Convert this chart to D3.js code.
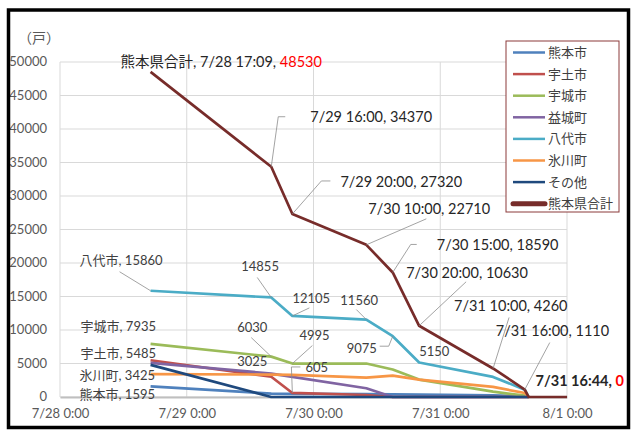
<!DOCTYPE html>
<html>
<head>
<meta charset="utf-8">
<title>熊本県 停電戸数</title>
<script src="https://d3js.org/d3.v7.min.js"></script>
<style type="text/css">
  body { margin: 0; background: #fff; }
  svg text { font-family: Lato, "Noto Sans CJK JP", sans-serif; }
  .grid line { stroke: #d9d9d9; stroke-width: 1; }
  .tick text { fill: #595959; font-size: 13px; }
  .series { fill: none; stroke-width: 2.7; stroke-linejoin: round; }
  .leader { fill: none; stroke: #8c8c8c; stroke-width: 0.8; }
  .lbl { fill: #404040; font-size: 13px; }
  .tlbl { fill: #262626; font-size: 14.5px; }
</style>
<script type="text/javascript">

// data
var times = ["7/28 17:09", "7/29 16:00", "7/29 20:00", "7/30 10:00", "7/30 15:00",
             "7/30 20:00", "7/31 10:00", "7/31 16:00", "7/31 16:44"];
var totalTimes = times.concat(["8/1 0:00"]);

var seriesNames = ["熊本市", "宇土市", "宇城市", "益城町", "八代市", "氷川町", "その他"];
var kumamoto = [1595, 500, 480, 450, 400, 350, 250, 100, 0];
var uto      = [5485, 3025, 605, 300, 0, 0, 0, 0, 0];
var uki      = [7935, 6030, 4995, 4995, 4100, 2600, 800, 200, 0];
var mashiki  = [5100, 3500, 3000, 1300, 0, 0, 0, 0, 0];
var yatsushiro = [15860, 14855, 12105, 11560, 9075, 5150, 3000, 1100, 0];
var hikawa   = [3425, 3350, 3300, 2900, 3200, 2600, 1500, 600, 0];
var others   = [4800, 0, 0, 0, 0, 0, 0, 0, 0];
var totalName = "熊本県合計";
var total    = [48530, 34370, 27320, 22710, 18590, 10630, 4260, 1110, 0, 0];

var yTicks = [0, 5000, 10000, 15000, 20000, 25000, 30000, 35000, 40000, 45000, 50000];
var xStart = "7/28 0:00", xEnd = "8/1 0:00";

var colors = ["#4f81bd", "#c0504d", "#9bbb59", "#8064a2", "#4bacc6", "#f79646", "#1f497d"];
var totalColor = "#772c2a";

function draw() {
  var parse = d3.timeParse("%Y/%m/%d %H:%M");
  function t(s) { return parse("2020/" + s); }

  var W = 638, H = 435;
  var left = 60, right = 567, top = 62, bottom = 397;

  var svg = d3.select("body").append("svg")
      .attr("width", W).attr("height", H);

  svg.append("rect").attr("width", W).attr("height", H).attr("fill", "#fff");

  var x = d3.scaleTime().domain([t(xStart), t(xEnd)]).range([left, right]);
  var y = d3.scaleLinear().domain([0, 50000]).range([bottom, top]);

  // gridlines
  var g = svg.append("g").attr("class", "grid");
  g.selectAll("line.h").data(yTicks).enter().append("line")
      .attr("x1", left).attr("x2", right)
      .attr("y1", function(d) { return y(d); })
      .attr("y2", function(d) { return y(d); });
  g.selectAll("line.v").data(x.ticks(d3.timeDay.every(1))).enter().append("line")
      .attr("y1", top).attr("y2", bottom)
      .attr("x1", function(d) { return x(d); })
      .attr("x2", function(d) { return x(d); });

  // y axis
  var ya = svg.append("g").attr("transform", "translate(" + (left - 13) + ",0)")
      .call(d3.axisLeft(y).tickValues(yTicks).tickSize(0).tickPadding(0)
            .tickFormat(d3.format("d")));
  ya.select(".domain").remove();
  ya.selectAll("text").attr("dy", "0.3em");

  // x axis
  var xa = svg.append("g").attr("transform", "translate(0," + bottom + ")")
      .call(d3.axisBottom(x).ticks(d3.timeDay.every(1)).tickSize(0).tickPadding(12)
            .tickFormat(d3.timeFormat("%-m/%-d %-H:%M")));
  xa.select(".domain").attr("stroke", "#bfbfbf").attr("stroke-width", 2);

  svg.append("text").attr("x", 18).attr("y", 43)
      .attr("fill", "#595959").style("font-size", "14px").text("（戸）");

  var line = d3.line()
      .x(function(d) { return x(d.t); })
      .y(function(d) { return y(d.v); });

  var allSeries = [kumamoto, uto, uki, mashiki, yatsushiro, hikawa, others];
  allSeries.forEach(function(vals, i) {
    var pts = vals.map(function(v, j) { return { t: t(times[j]), v: v }; });
    svg.append("path").datum(pts).attr("class", "series")
        .attr("stroke", colors[i]).attr("d", line);
  });

  var totPts = total.map(function(v, j) { return { t: t(totalTimes[j]), v: v }; });
  svg.append("path").datum(totPts).attr("class", "series")
      .attr("stroke", totalColor).attr("stroke-width", 5.5).attr("d", line);

  // data labels: offsets from the point, leader bends as offsets too
  var labelLayout = [
    { s: 4, i: 0, text: "八代市, ", dx: -71, dy: -26, lead: [[-31, -19]] },
    { s: 4, i: 1, dx: -30, dy: -26, lead: [[-14, -20]] },
    { s: 4, i: 2, dx: 0, dy: -13, lead: [[17, -8]] },
    { s: 4, i: 3, dx: -26, dy: -15, lead: [[-10, -10]] },
    { s: 4, i: 4, dx: -46, dy: 17, lead: [[-4, 10], [-13, 10]] },
    { s: 4, i: 5, dx: 0, dy: -6 },
    { s: 2, i: 0, text: "宇城市, ", dx: -70, dy: -13 },
    { s: 2, i: 1, dx: -34, dy: -25, lead: [[-20, -19]] },
    { s: 2, i: 2, dx: 7, dy: -24, lead: [[20, -18]] },
    { s: 1, i: 0, text: "宇土市, ", dx: -70, dy: -2 },
    { s: 1, i: 1, dx: -34, dy: -11 },
    { s: 1, i: 2, dx: 13, dy: -21, lead: [[-1, -26], [8, -26]] },
    { s: 5, i: 0, text: "氷川町, ", dx: -71, dy: 6 },
    { s: 0, i: 0, text: "熊本市, ", dx: -71, dy: 13 }
  ];

  labelLayout.forEach(function(L) {
    var vals = allSeries[L.s];
    var px = x(t(times[L.i])), py = y(vals[L.i]);
    if (L.lead) {
      var pts = [[px, py]].concat(L.lead.map(function(o) { return [px + o[0], py + o[1]]; }));
      svg.append("path").attr("class", "leader").attr("d", d3.line()(pts));
    }
    svg.append("text").attr("class", "lbl")
        .attr("x", px + L.dx).attr("y", py + L.dy)
        .text((L.text || "") + vals[L.i]);
  });

  var totalLayout = [
    { i: 0, dx: -30, dy: -5, head: totalName + ", " },
    { i: 1, dx: 39, dy: -45, lead: [[7, -50], [14, -50]] },
    { i: 2, dx: 48, dy: -27, lead: [[29, -33], [38, -33]] },
    { i: 3, dx: 2, dy: -31, lead: [[60, -26]] },
    { i: 4, dx: 44, dy: -22, lead: [[18, -28], [24, -28]] },
    { i: 5, dx: -13, dy: -48, lead: [[47, -44]] },
    { i: 6, dx: -39, dy: -57, lead: [[16, -51]] },
    { i: 7, dx: -29, dy: -54, lead: [[25, -47]] },
    { i: 8, dx: 7, dy: -11, bold: true }
  ];

  totalLayout.forEach(function(L) {
    var px = x(t(totalTimes[L.i])), py = y(total[L.i]);
    if (L.lead) {
      var pts = [[px, py]].concat(L.lead.map(function(o) { return [px + o[0], py + o[1]]; }));
      svg.append("path").attr("class", "leader").attr("d", d3.line()(pts));
    }
    var txt = svg.append("text").attr("class", "tlbl")
        .attr("x", px + L.dx).attr("y", py + L.dy)
        .style("font-weight", L.bold ? "bold" : null);
    var red = (L.i === 0 || L.bold);
    txt.append("tspan").text((L.head || "") + totalTimes[L.i] + ", ");
    txt.append("tspan").attr("fill", red ? "#ff0000" : null).text(total[L.i]);
  });

  // legend
  var lg = svg.append("g").attr("transform", "translate(506,41)");
  lg.append("rect").attr("width", 113).attr("height", 171)
      .attr("fill", "#fff").attr("stroke", "#8b3a3a").attr("stroke-width", 1);
  var legendNames = seriesNames.concat([totalName]);
  var legendColors = colors.concat([totalColor]);
  var row = lg.selectAll("g.item").data(legendNames).enter().append("g")
      .attr("transform", function(d, i) { return "translate(0," + (11.5 + i * 21.6) + ")"; });
  row.append("line").attr("x1", 7).attr("x2", 39).attr("y1", 0).attr("y2", 0)
      .attr("stroke", function(d, i) { return legendColors[i]; })
      .attr("stroke-width", function(d, i) { return i === 7 ? 5 : 2.5; })
      .attr("stroke-linecap", function(d, i) { return i === 7 ? "round" : "butt"; });
  row.append("text").attr("x", 42).attr("dy", "0.35em")
      .attr("fill", "#404040").style("font-size", "13px")
      .text(function(d) { return d; });

  // outer frame
  svg.append("rect").attr("x", 8.5).attr("y", 10).attr("width", 620).attr("height", 417.5)
      .attr("fill", "none").attr("stroke", "#000").attr("stroke-width", 3.5);
}

window.onload = draw;
</script>
</head>
<body>
</body>
</html>
